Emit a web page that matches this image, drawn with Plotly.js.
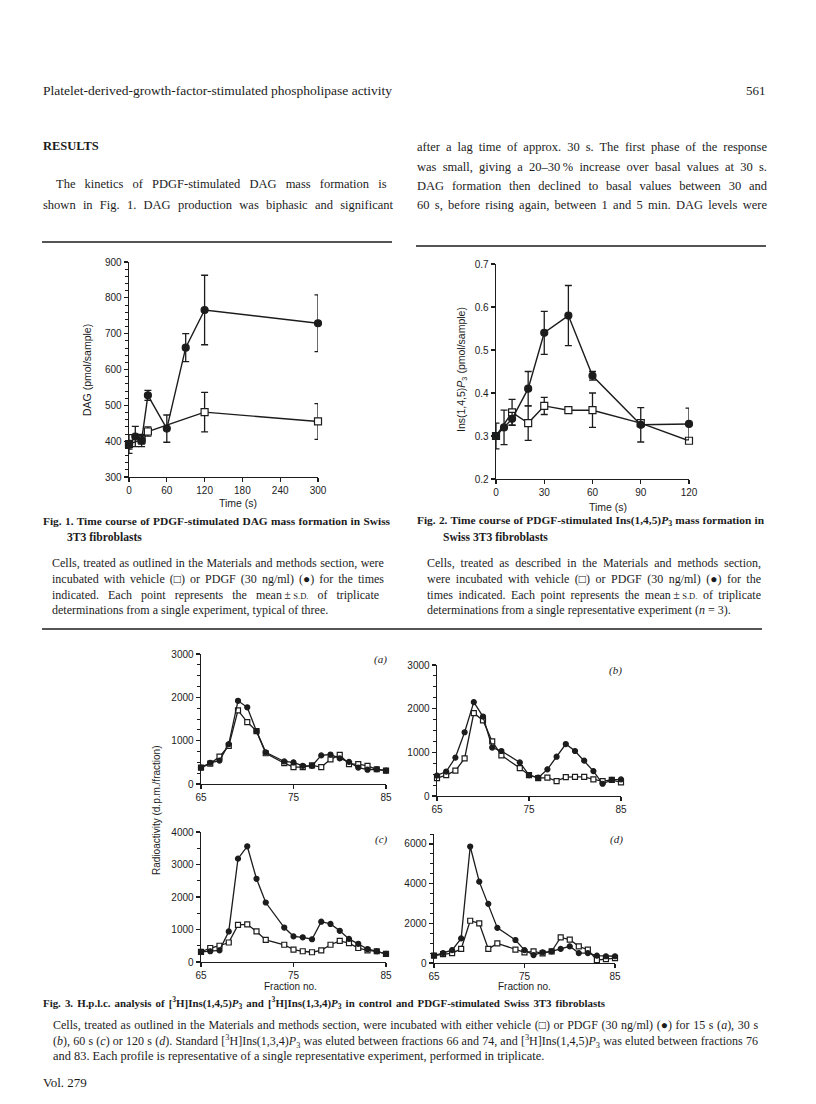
<!DOCTYPE html>
<html><head><meta charset="utf-8">
<script src="https://cdn.plot.ly/plotly-3.0.1.min.js"></script>
<style>html,body{margin:0;padding:0;background:#fff}#chart{width:816px;height:1104px}</style>
</head><body><div id="chart"></div>
<script>
// ---------- DATA ----------
// Fig. 1  DAG (pmol/sample) vs time (s)
const fig1TimePdgf = [0, 10, 20, 30, 60, 90, 120, 300];
const fig1Pdgf     = [390, 413, 402, 528, 435, 661, 766, 729];
const fig1PdgfSD   = [12, 28, 17, 14, 38, 39, 97, 79];
const fig1TimeCtrl = [0, 20, 30, 120, 300];
const fig1Ctrl     = [392, 404, 427, 481, 455];
const fig1CtrlSD   = [26, 12, 13, 55, 50];
const fig1XTicks   = [0, 60, 120, 180, 240, 300];

// Fig. 2  Ins(1,4,5)P3 (pmol/sample) vs time (s)
const fig2TimePdgf = [0, 5, 10, 20, 30, 45, 60, 90, 120];
const fig2Pdgf     = [0.30, 0.32, 0.34, 0.41, 0.54, 0.58, 0.44, 0.326, 0.328];
const fig2PdgfSD   = [0, 0.04, 0.015, 0.04, 0.05, 0.07, 0.01, 0.04, 0.037];
const fig2TimeCtrl = [0, 10, 20, 30, 45, 60, 90, 120];
const fig2Ctrl     = [0.30, 0.355, 0.33, 0.37, 0.36, 0.36, 0.33, 0.289];
const fig2CtrlSD   = [0.03, 0.03, 0.04, 0.02, 0.005, 0.04, 0.005, 0.005];
const fig2XTicks   = [0, 30, 60, 90, 120];

// Fig. 3  Radioactivity (d.p.m./fraction) vs fraction no.
const fractions = [65, 66, 67, 68, 69, 70, 71, 72, 74, 75, 76, 77, 78, 79, 80, 81, 82, 83, 84, 85];
const aPdgf = [380, 490, 540, 920, 1920, 1770, 1220, 730, 520, 500, 420, 420, 660, 680, 590, 510, 380, 330, 340, 310];
const aCtrl = [380, 470, 630, 880, 1700, 1430, 1220, 710, 480, 390, 390, 430, 390, 570, 670, 460, 460, 420, 340, 310];
const bPdgf = [470, 560, 880, 1460, 2150, 1820, 1110, 1030, 770, 480, 420, 610, 900, 1190, 1030, 810, 570, 280, 370, 380];
const bCtrl = [410, 480, 580, 860, 1900, 1730, 1250, 930, 640, 480, 410, 420, 340, 430, 440, 440, 380, 340, 370, 310];
const cPdgf = [310, 330, 360, 940, 3180, 3560, 2560, 1830, 1060, 790, 760, 700, 1240, 1170, 960, 710, 560, 400, 330, 250];
const cCtrl = [310, 430, 500, 600, 1140, 1160, 940, 680, 530, 380, 330, 300, 360, 530, 650, 580, 430, 360, 330, 250];
const dPdgf = [370, 500, 650, 1240, 5870, 4100, 2980, 1770, 1160, 650, 400, 540, 590, 710, 840, 500, 500, 370, 340, 340];
const dCtrl = [370, 450, 500, 710, 2130, 2000, 710, 990, 670, 540, 590, 490, 590, 1290, 1180, 840, 670, 150, 200, 250];
const fig3XTicks = [65, 75, 85];

// ---------- LAYOUT HELPERS ----------
const W = 816, H = 1104;
const px = x => x / W, py = y => 1 - y / H;
const INK = '#1c1c1c';
const SANS = 'Liberation Sans, Arial, Helvetica, sans-serif';
const SERIF = 'Liberation Serif, Times New Roman, serif';

function xax(l, r, range, extra) {
  return Object.assign({
    domain: [px(l), px(r)], range, showline: true, linecolor: INK, linewidth: 1.4,
    ticks: 'outside', ticklen: 4, tickwidth: 1.2, tickcolor: INK, showgrid: false, zeroline: false,
    fixedrange: true, tickfont: {family: SANS, size: 10, color: INK}
  }, extra);
}
function yax(top, bottom, range, extra) {
  return Object.assign({
    domain: [py(bottom), py(top)], range, showline: true, linecolor: INK, linewidth: 1.4,
    ticks: 'outside', ticklen: 4, tickwidth: 1.2, tickcolor: INK, showgrid: false, zeroline: false,
    fixedrange: true, tickfont: {family: SANS, size: 10, color: INK}
  }, extra);
}
const minor = d => ({dtick: d, ticks: 'outside', ticklen: 2.5, tickwidth: 1, tickcolor: INK, showgrid: false});

const traces = [];
function addSeries(x, y, sd, k, filled, msize, lw) {
  const t = {
    type: 'scatter', mode: 'lines+markers', x, y,
    xaxis: k === 1 ? 'x' : 'x' + k, yaxis: k === 1 ? 'y' : 'y' + k,
    line: {color: INK, width: lw}, cliponaxis: false, hoverinfo: 'skip', showlegend: false,
    marker: {symbol: filled ? 'circle' : 'square', size: msize, color: filled ? INK : '#ffffff',
             line: {color: INK, width: 1.2}}
  };
  if (sd) t.error_y = {type: 'data', array: sd, visible: true, color: INK, thickness: 1.3, width: 3.5};
  traces.push(t);
}
addSeries(fig1TimeCtrl, fig1Ctrl, fig1CtrlSD, 1, false, 7, 1.4);
addSeries(fig1TimePdgf, fig1Pdgf, fig1PdgfSD, 1, true, 7, 1.4);
addSeries(fig2TimeCtrl, fig2Ctrl, fig2CtrlSD, 2, false, 7, 1.4);
addSeries(fig2TimePdgf, fig2Pdgf, fig2PdgfSD, 2, true, 7, 1.4);
addSeries(fractions, aCtrl, null, 3, false, 5, 1.3);
addSeries(fractions, aPdgf, null, 3, true, 5, 1.3);
addSeries(fractions, bCtrl, null, 4, false, 5, 1.3);
addSeries(fractions, bPdgf, null, 4, true, 5, 1.3);
addSeries(fractions, cCtrl, null, 5, false, 5, 1.3);
addSeries(fractions, cPdgf, null, 5, true, 5, 1.3);
addSeries(fractions, dCtrl, null, 6, false, 5, 1.3);
addSeries(fractions, dPdgf, null, 6, true, 5, 1.3);

// ---------- TEXT ----------
const ann = [];
const justify = [];
function txt(text, x, y, size, opts) {
  opts = opts || {};
  const a = {
    text, x: px(x), y: py(y), xref: 'paper', yref: 'paper',
    xanchor: opts.xanchor || 'left', yanchor: 'middle', align: opts.align || 'left', showarrow: false,
    font: {family: opts.family || SERIF, size, color: INK}, borderpad: 0
  };
  if (opts.angle !== undefined) a.textangle = opts.angle;
  ann.push(a);
  if (opts.width) justify.push({i: ann.length - 1, w: opts.width});
}
const SD = 'mean\u2009\u00b1\u2009<span style="font-size:8.5px">S.D.</span>';
const SQ = '(\u25a1)', DOT = '(\u25cf)';
const P3 = '<i>P</i><sub>3</sub>';

// page header & body text
txt('Platelet-derived-growth-factor-stimulated phospholipase activity', 42, 91, 13.5);
txt('561', 767, 91, 13);
ann[ann.length - 1].xanchor = 'right';
txt('<b>RESULTS</b>', 42, 146, 12.5);
txt('The kinetics of PDGF-stimulated DAG mass formation is', 55, 184, 12.5, {width: 337});
txt('shown in Fig. 1. DAG production was biphasic and significant', 42, 205, 12.5, {width: 350});
txt('after a lag time of approx. 30 s. The first phase of the response', 416, 147, 12.5, {width: 350});
txt('was small, giving a 20\u201330\u2009% increase over basal values at 30 s.', 416, 167, 12.5, {width: 350});
txt('DAG formation then declined to basal values between 30 and', 416, 186, 12.5, {width: 350});
txt('60 s, before rising again, between 1 and 5 min. DAG levels were', 416, 205, 12.5, {width: 350});

// chart axis labels
txt('DAG (pmol/sample)', 87, 370, 10.5, {family: SANS, xanchor: 'center', align: 'center', angle: -90});
txt('Time (s)', 238, 503, 10.5, {family: SANS, xanchor: 'center', align: 'center'});
txt('Ins(1,4,5)' + P3 + ' (pmol/sample)', 462, 370, 10.5, {family: SANS, xanchor: 'center', align: 'center', angle: -90});
txt('Time (s)', 608, 507, 10.5, {family: SANS, xanchor: 'center', align: 'center'});

// Fig 1 & 2 captions
txt('<b>Fig. 1. Time course of PDGF-stimulated DAG mass formation in Swiss</b>', 42, 521, 11.4, {width: 347});
txt('<b>3T3 fibroblasts</b>', 66, 537, 11.6);
txt('Cells, treated as outlined in the Materials and methods section, were', 51, 563, 12, {width: 332});
txt('incubated with vehicle ' + SQ + ' or PDGF (30 ng/ml) ' + DOT + ' for the times', 51, 579, 12, {width: 332});
txt('indicated. Each point represents the ' + SD + ' of triplicate', 51, 595, 12, {width: 332});
txt('determinations from a single experiment, typical of three.', 51, 610, 12);

txt('<b>Fig. 2. Time course of PDGF-stimulated Ins(1,4,5)' + P3 + ' mass formation in</b>', 416, 521, 11.4, {width: 347});
txt('<b>Swiss 3T3 fibroblasts</b>', 442, 537, 11.6);
txt('Cells, treated as described in the Materials and methods section,', 426, 563, 12, {width: 334});
txt('were incubated with vehicle ' + SQ + ' or PDGF (30 ng/ml) ' + DOT + ' for the', 426, 579, 12, {width: 334});
txt('times indicated. Each point represents the ' + SD + ' of triplicate', 426, 595, 12, {width: 334});
txt('determinations from a single representative experiment (<i>n</i> = 3).', 426, 610, 12);

// Fig 3 labels
txt('<i>(a)</i>', 380, 659, 11, {xanchor: 'center', align: 'center'});
txt('<i>(b)</i>', 615, 670, 11, {xanchor: 'center', align: 'center'});
txt('<i>(c)</i>', 381, 839, 11, {xanchor: 'center', align: 'center'});
txt('<i>(d)</i>', 616, 839, 11, {xanchor: 'center', align: 'center'});
txt('Radioactivity (d.p.m./fraction)', 156, 810, 10, {family: SANS, xanchor: 'center', align: 'center', angle: -90});
txt('Fraction no.', 290, 986, 10, {family: SANS, xanchor: 'center', align: 'center'});
txt('Fraction no.', 524, 986, 10, {family: SANS, xanchor: 'center', align: 'center'});

// Fig 3 caption
txt('<b>Fig. 3. H.p.l.c. analysis of [<sup>3</sup>H]Ins(1,4,5)' + P3 + ' and [<sup>3</sup>H]Ins(1,3,4)' + P3 +
    ' in control and PDGF-stimulated Swiss 3T3 fibroblasts</b>', 42, 1003, 10.9, {width: 562});
txt('Cells, treated as outlined in the Materials and methods section, were incubated with either vehicle ' + SQ +
    ' or PDGF (30 ng/ml) ' + DOT + ' for 15 s (<i>a</i>), 30 s', 52, 1025, 12, {width: 705});
txt('(<i>b</i>), 60 s (<i>c</i>) or 120 s (<i>d</i>). Standard [<sup>3</sup>H]Ins(1,3,4)' + P3 +
    ' was eluted between fractions 66 and 74, and [<sup>3</sup>H]Ins(1,4,5)' + P3 + ' was eluted between fractions 76',
    52, 1041, 12, {width: 705});
txt('and 83. Each profile is representative of a single representative experiment, performed in triplicate.', 52, 1056, 12.4);
txt('Vol. 279', 42, 1082, 13);

// rules
const rule = (x0, x1, y) => ({type: 'line', xref: 'paper', yref: 'paper', x0: px(x0), x1: px(x1), y0: py(y), y1: py(y),
                              line: {color: INK, width: 1.7}});
const shapes = [rule(42, 392, 242), rule(416, 766, 246), rule(42, 762, 629)];

const layout = {
  width: W, height: H, margin: {l: 0, r: 0, t: 0, b: 0}, paper_bgcolor: '#fff', plot_bgcolor: 'rgba(0,0,0,0)',
  showlegend: false, annotations: ann, shapes,
  xaxis:  xax(129, 318, [0, 300], {anchor: 'y', tickvals: fig1XTicks}),
  yaxis:  yax(262, 477, [300, 900], {anchor: 'x', dtick: 100, minor: minor(20)}),
  xaxis2: xax(496, 689, [0, 120], {anchor: 'y2', tickvals: fig2XTicks}),
  yaxis2: yax(264, 479, [0.2, 0.7], {anchor: 'x2', dtick: 0.1, tickformat: '.1f'}),
  xaxis3: xax(201, 386, [65, 85], {anchor: 'y3', tickvals: fig3XTicks}),
  yaxis3: yax(654, 784, [0, 3000], {anchor: 'x3', dtick: 1000, minor: minor(250)}),
  xaxis4: xax(437, 621, [65, 85], {anchor: 'y4', tickvals: fig3XTicks}),
  yaxis4: yax(665, 796, [0, 3000], {anchor: 'x4', dtick: 1000, minor: minor(250)}),
  xaxis5: xax(201, 386, [65, 85], {anchor: 'y5', tickvals: fig3XTicks}),
  yaxis5: yax(832, 962, [0, 4000], {anchor: 'x5', dtick: 1000, minor: minor(500)}),
  xaxis6: xax(434, 615, [65, 85], {anchor: 'y6', tickvals: fig3XTicks}),
  yaxis6: yax(834, 963, [0, 6500], {anchor: 'x6', tickvals: [0, 2000, 4000, 6000], minor: minor(500)})
};

// justify lines by word spacing (like the printed page)
Plotly.newPlot('chart', traces, layout, {staticPlot: true, displayModeBar: false}).then(() => {
  document.querySelectorAll('g.annotation').forEach(g => {
    const idx = +g.getAttribute('data-index');
    const j = justify.find(o => o.i === idx);
    if (!j) return;
    const t = g.querySelector('text.annotation-text');
    if (!t) return;
    const natural = t.getComputedTextLength();
    const spaces = (t.textContent.match(/ /g) || []).length;
    if (spaces > 0 && natural > 0) {
      const ws = (j.w - natural) / spaces;
      t.style.wordSpacing = Math.max(-1.5, Math.min(6, ws)).toFixed(2) + 'px';
    }
  });
});
</script>
</body></html>
